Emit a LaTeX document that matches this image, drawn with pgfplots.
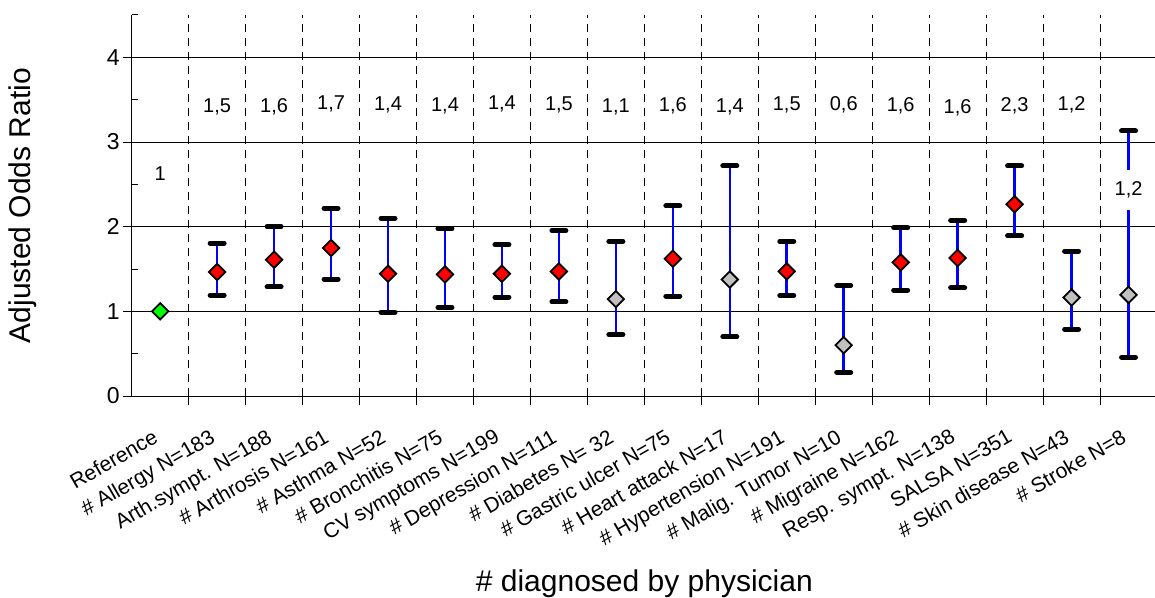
\documentclass[border=0pt]{standalone}
\usepackage{fontspec}
\setmainfont{Liberation Sans}
\usepackage{pgfplots}
\pgfplotsset{compat=1.18}
\usepackage{pgfplotstable}

\definecolor{mkred}{RGB}{255,0,0}
\definecolor{mkgreen}{RGB}{0,255,0}
\definecolor{mkgray}{RGB}{192,192,192}
\definecolor{barblue}{RGB}{0,0,255}

% significant (red) estimates: x, OR, lower CI, upper CI
\pgfplotstableread{
x y lo hi
1 1.464 1.190 1.807
2 1.610 1.290 2.000
3 1.748 1.380 2.217
4 1.444 0.990 2.100
5 1.436 1.045 1.976
6 1.444 1.168 1.787
7 1.471 1.112 1.953
9 1.621 1.180 2.245
11 1.471 1.187 1.826
13 1.578 1.250 1.988
14 1.630 1.278 2.075
15 2.264 1.890 2.718
}\sigtable

% non-significant (grey) estimates
\pgfplotstableread{
x y lo hi
8 1.144 0.726 1.826
10 1.376 0.698 2.718
12 0.600 0.280 1.305
16 1.163 0.789 1.712
17 1.195 0.457 3.130
}\nstable

\pgfplotstableread{
x y
0 1.00
}\reftable

\pgfplotstableread{
x y lab
0 2.63 1
1 3.417 1,5
2 3.410 1,6
3 3.445 1,7
4 3.437 1,4
5 3.425 1,4
6 3.449 1,4
7 3.437 1,5
8 3.410 1,1
9 3.425 1,6
10 3.417 1,4
11 3.437 1,5
12 3.437 0,6
13 3.425 1,6
14 3.400 1,6
15 3.425 2,3
16 3.437 1,2
}\labtable

\pgfplotstableread{
x y lab
17 2.433 1,2
}\strokelab

\begin{document}
\begin{tikzpicture}
\begin{axis}[
  scale only axis,
  width=1025.3pt, height=381pt,
  xmin=-0.5, xmax=17.5, ymin=0, ymax=4.5,
  axis lines=left,
  axis line style={-, black, line width=1pt},
  xtick={0.5,1.5,...,17.5},
  xticklabels={},
  extra x ticks={-0.149,0.851,1.851,2.851,3.851,4.851,5.851,6.851,7.851,8.851,9.851,10.851,11.851,12.851,13.851,14.851,15.851,16.851},
  extra x tick labels={Reference, \# Allergy N=183, Arth.sympt. N=188, \# Arthrosis N=161, \# Asthma N=52, \# Bronchitis N=75, CV symptoms N=199, \# Depression N=111, \# Diabetes N= 32, \# Gastric ulcer N=75, \# Heart attack N=17, \# Hypertension N=191, \# Malig. Tumor N=10, \# Migraine N=162, Resp. sympt. N=138, SALSA N=351, \# Skin disease N=43, \# Stroke N=8},
  extra x tick style={grid=none, tick style={draw=none}},
  xticklabel style={rotate=30, anchor=north east, inner sep=0pt, font=\fontsize{21}{25}\selectfont},
  xticklabel shift=23.5pt,
  ytick={0,1,2,3,4},
  minor ytick={0.5,1.5,2.5,3.5,4.5},
  yticklabel style={font=\fontsize{23}{27}\selectfont},
  /pgf/number format/assume math mode=true,
  tick align=center,
  major tick length=17pt,
  minor tick length=6.6pt,
  minor y tick style={xshift=3.3pt},
  tick style={black, line width=1pt},
  xmajorgrids, ymajorgrids,
  x grid style={black, dash pattern=on 8pt off 6pt, line width=1pt},
  y grid style={black, line width=1pt},
  xlabel={\# diagnosed by physician},
  ylabel={Adjusted Odds Ratio},
  label style={font=\fontsize{30}{36}\selectfont},
  xlabel style={at={(axis description cs:0.5,-0.512)}, anchor=base},
  ylabel style={at={(axis description cs:-0.106,0.5)}, anchor=center},
  clip=false,
]
% error bars (blue lines with black caps)
\addplot[only marks, mark=none,
  error bars/.cd, y dir=both, y explicit,
  error bar style={barblue, line width=2.6pt},
  error mark options={rotate=90, black, line width=5pt, mark size=7pt, line cap=round}]
  table[x=x, y=y, y error plus expr=\thisrow{hi}-\thisrow{y}, y error minus expr=\thisrow{y}-\thisrow{lo}] {\sigtable};
\addplot[only marks, mark=none,
  error bars/.cd, y dir=both, y explicit,
  error bar style={barblue, line width=2.6pt},
  error mark options={rotate=90, black, line width=5pt, mark size=7pt, line cap=round}]
  table[x=x, y=y, y error plus expr=\thisrow{hi}-\thisrow{y}, y error minus expr=\thisrow{y}-\thisrow{lo}] {\nstable};
% diamonds
\addplot[only marks, mark=square*, mark size=5.8pt,
  mark options={rotate=45, fill=mkred, draw=black, line width=1.8pt}]
  table[x=x, y=y] {\sigtable};
\addplot[only marks, mark=square*, mark size=5.8pt,
  mark options={rotate=45, fill=mkgray, draw=black, line width=1.8pt}]
  table[x=x, y=y] {\nstable};
\addplot[only marks, mark=square*, mark size=5.8pt,
  mark options={rotate=45, fill=mkgreen, draw=black, line width=1.8pt}]
  table[x=x, y=y] {\reftable};
% value labels
\addplot[only marks, mark=none, nodes near coords, point meta=explicit symbolic,
  every node near coord/.append style={anchor=center, font=\fontsize{20}{24}\selectfont, black, inner sep=0pt}]
  table[x=x, y=y, meta=lab] {\labtable};
\addplot[only marks, mark=none, nodes near coords, point meta=explicit symbolic,
  every node near coord/.append style={anchor=center, font=\fontsize{20}{24}\selectfont, black, fill=white, inner xsep=3pt, inner ysep=12pt}]
  table[x=x, y=y, meta=lab] {\strokelab};
\coordinate (bl) at (rel axis cs:0,0);
\coordinate (tr) at (rel axis cs:1,1);
\end{axis}
\pgfresetboundingbox
\path ([xshift=-131.7pt, yshift=-201pt]bl) rectangle ([xshift=-2pt, yshift=15pt]tr);
\end{tikzpicture}
\end{document}
